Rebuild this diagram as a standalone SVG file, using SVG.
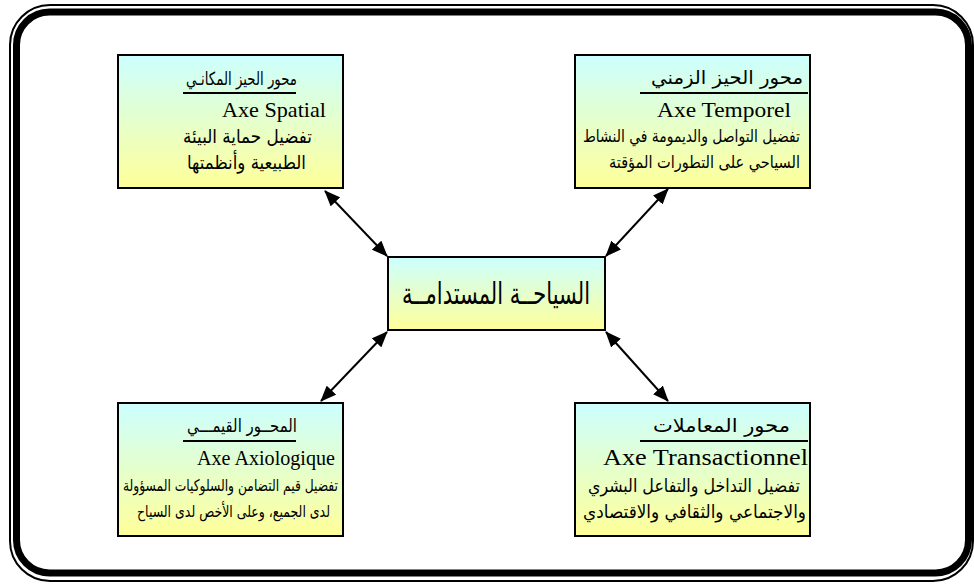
<svg xmlns="http://www.w3.org/2000/svg" width="974" height="585" viewBox="0 0 974 585">
  <defs>
    <linearGradient id="boxFill" x1="0" y1="0" x2="0" y2="1">
      <stop offset="0" stop-color="#CCFFFF"/>
      <stop offset="1" stop-color="#FFFF99"/>
    </linearGradient>
    <marker id="head" viewBox="0 0 16 13" refX="15" refY="6.5" markerWidth="16" markerHeight="13" markerUnits="userSpaceOnUse" orient="auto-start-reverse">
      <path d="M0,0 L16,6.5 L0,13 Z" fill="#000"/>
    </marker>
  </defs>
  <style>
    .box { fill: url(#boxFill); stroke: #000; stroke-width: 2; }
    .ar { font-family: "DejaVu Sans", "Noto Sans", sans-serif; fill: #000; text-anchor: middle; }
    .lat { font-family: "Liberation Serif", "Times New Roman", serif; fill: #000; text-anchor: middle; }
    .rule { stroke: #000; stroke-width: 2; }
    .link { stroke: #000; stroke-width: 2; fill: none; marker-start: url(#head); marker-end: url(#head); }
  </style>

  <rect width="974" height="585" fill="#fff"/>

  <!-- page border: thin outer line and thick inner line -->
  <g id="frame" fill="none" stroke="#000">
    <rect x="10" y="5" width="963" height="576" rx="40" stroke-width="2"/>
    <rect x="16.5" y="12" width="952" height="561" rx="33" stroke-width="7"/>
  </g>

  <!-- connectors -->
  <g id="connectors">
    <line class="link" x1="325" y1="191" x2="387" y2="256"/>
    <line class="link" x1="668" y1="189" x2="606" y2="256"/>
    <line class="link" x1="387" y1="332" x2="321" y2="401"/>
    <line class="link" x1="606" y1="332" x2="668" y2="401"/>
  </g>

  <!-- spatial axis -->
  <g id="axe-spatial">
    <rect class="box" x="118" y="55" width="225" height="133"/>
    <text class="ar" x="241.5" y="85" font-size="18" textLength="111" lengthAdjust="spacingAndGlyphs">محور الحيز المكانـي</text>
    <line class="rule" x1="183" y1="93" x2="296" y2="93"/>
    <text class="lat" x="274" y="117" font-size="22" textLength="104" lengthAdjust="spacingAndGlyphs">Axe Spatial</text>
    <text class="ar" x="247.5" y="143" font-size="19" textLength="129" lengthAdjust="spacingAndGlyphs">تفضيل حماية البيئة</text>
    <text class="ar" x="246.5" y="169" font-size="19" textLength="119" lengthAdjust="spacingAndGlyphs">الطبيعية وأنظمتها</text>
  </g>

  <!-- temporal axis -->
  <g id="axe-temporel">
    <rect class="box" x="575" y="55" width="235" height="133"/>
    <text class="ar" x="727" y="84" font-size="19" textLength="152" lengthAdjust="spacingAndGlyphs">محور الحيز الزمني</text>
    <line class="rule" x1="640" y1="93" x2="808" y2="93"/>
    <text class="lat" x="724" y="117" font-size="22" textLength="134" lengthAdjust="spacingAndGlyphs">Axe Temporel</text>
    <text class="ar" x="691.5" y="142" font-size="17" textLength="217" lengthAdjust="spacingAndGlyphs">تفضيل التواصل والديمومة في النشاط</text>
    <text class="ar" x="704.5" y="168" font-size="17" textLength="191" lengthAdjust="spacingAndGlyphs">السياحي على التطورات المؤقتة</text>
  </g>

  <!-- centre -->
  <g id="centre">
    <rect class="box" x="388" y="257" width="217" height="73"/>
    <text class="ar" x="496" y="304" font-size="30" textLength="188" lengthAdjust="spacingAndGlyphs">السياحــة المستدامــة</text>
  </g>

  <!-- axiological axis -->
  <g id="axe-axiologique">
    <rect class="box" x="118" y="403" width="225" height="133"/>
    <text class="ar" x="242" y="432" font-size="18" textLength="110" lengthAdjust="spacingAndGlyphs">المحــور القيمـــي</text>
    <line class="rule" x1="183" y1="441" x2="296" y2="441"/>
    <text class="lat" x="266" y="465" font-size="20" textLength="138" lengthAdjust="spacingAndGlyphs">Axe Axiologique</text>
    <text class="ar" x="230.5" y="491" font-size="16" textLength="215" lengthAdjust="spacingAndGlyphs">تفضيل قيم التضامن والسلوكيات المسؤولة</text>
    <text class="ar" x="233.5" y="517" font-size="16" textLength="193" lengthAdjust="spacingAndGlyphs">لدى الجميع، وعلى الأخص لدى السياح</text>
  </g>

  <!-- transactional axis -->
  <g id="axe-transactionnel">
    <rect class="box" x="575" y="403" width="235" height="133"/>
    <text class="ar" x="721.5" y="432" font-size="19" textLength="137" lengthAdjust="spacingAndGlyphs">محور المعاملات</text>
    <line class="rule" x1="640" y1="441" x2="808" y2="441"/>
    <text class="lat" x="705.5" y="465" font-size="23" textLength="205" lengthAdjust="spacingAndGlyphs">Axe Transactionnel</text>
    <text class="ar" x="694" y="492" font-size="18" textLength="212" lengthAdjust="spacingAndGlyphs">تفضيل التداخل والتفاعل البشري</text>
    <text class="ar" x="694.5" y="518" font-size="18" textLength="223" lengthAdjust="spacingAndGlyphs">والاجتماعي والثقافي والاقتصادي</text>
  </g>
</svg>
